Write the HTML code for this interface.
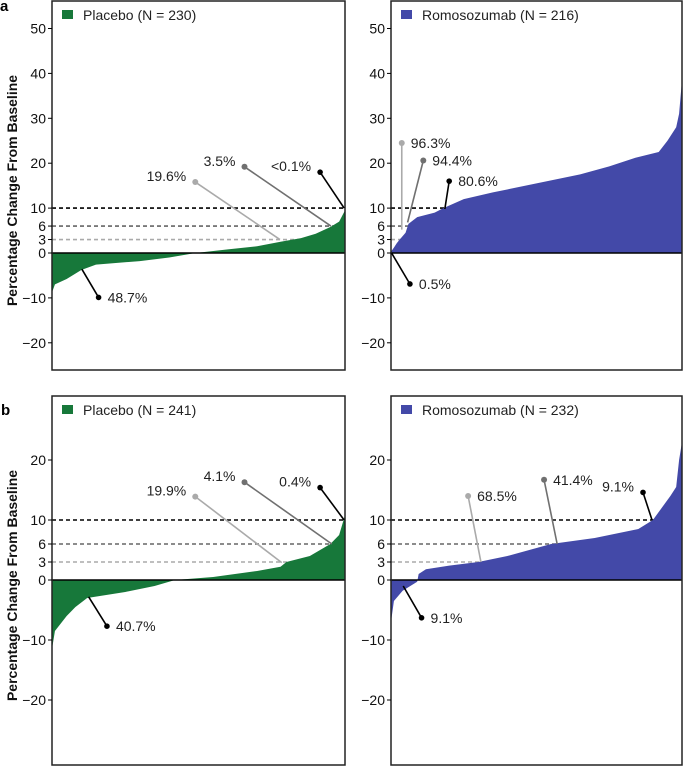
<!DOCTYPE html>
<html><head><meta charset="utf-8"><style>
body{margin:0;background:#fff;}
svg{display:block;font-family:"Liberation Sans",Arial,sans-serif;}
</style></head><body>
<svg id="c" width="684" height="766" xmlns="http://www.w3.org/2000/svg"></svg>
<script>
// Panel a placebo: percentile rank (fraction) and % change
const aPlaFrac=[0,0.01,0.05,0.1,0.15,0.3,0.4,0.49,0.6,0.7,0.78,0.85,0.9,0.95,0.98,1.0];
const aPlaVal=[-8.8,-7,-5.8,-3.8,-2.6,-1.8,-1.0,0,0.8,1.5,2.5,3.3,4.3,5.8,7,9.5];
const aRomFrac=[0,0.01,0.02,0.03,0.05,0.06,0.09,0.15,0.18,0.25,0.35,0.5,0.65,0.75,0.84,0.92,0.95,0.98,0.99,1.0];
const aRomVal=[0.3,1.2,2.2,3,4.5,6.5,8,9,10,12,13.5,15.5,17.5,19.3,21.2,22.5,25,28,31,38.5];
const bPlaFrac=[0,0.01,0.05,0.08,0.12,0.25,0.35,0.42,0.55,0.7,0.78,0.8,0.88,0.95,0.98,1.0];
const bPlaVal=[-11.5,-8.5,-6,-4.5,-3,-2,-1,0,0.5,1.5,2.2,3,4,6,7.5,10.8];
const bRomFrac=[0,0.01,0.04,0.09,0.095,0.12,0.2,0.3,0.4,0.55,0.7,0.85,0.9,0.93,0.96,0.98,0.99,1.0];
const bRomVal=[-7,-3.5,-1.8,-0.3,1,1.8,2.4,3,4,6,7,8.5,10,12,14,15.5,20,23];
const aTicks=[50,40,30,20,10,6,3,0,-10,-20];
const bTicks=[20,10,6,3,0,-10,-20];
const refLines=[10,6,3];
const refColors=['#000','#666','#aaa'];
// annotations: [label, dotFrac, dotVal, endFrac, endVal, colorIdx, side]
const aPlaAnn=[["19.6%",0.489,15.8,0.778,3,2,"L"],["3.5%",0.657,19.2,0.952,6,1,"L"],["<0.1%",0.915,18,0.997,10,0,"L"],["48.7%",0.159,-9.9,0.102,-3.6,0,"R"]];
const aRomAnn=[["96.3%",0.037,24.5,0.037,5.2,2,"R"],["94.4%",0.111,20.6,0.057,6.8,1,"R"],["80.6%",0.2,16,0.185,9.8,0,"R"],["0.5%",0.065,-6.9,0.002,0,0,"R"]];
const bPlaAnn=[["19.9%",0.489,13.9,0.784,2.9,2,"L"],["4.1%",0.657,16.3,0.955,6,1,"L"],["0.4%",0.915,15.4,0.997,10,0,"L"],["40.7%",0.1875,-7.7,0.125,-2.8,0,"R"]];
const bRomAnn=[["68.5%",0.265,14,0.309,3,2,"R"],["41.4%",0.526,16.7,0.571,6,1,"R"],["9.1%",0.866,14.6,0.897,10,0,"L"],["9.1%",0.105,-6.3,0.042,-1,0,"R"]];
const annColors=['#000','#707070','#aaa'];

const svg=document.getElementById('c');
const NS='http://www.w3.org/2000/svg';
function mk(tag,attrs,parent){const e=document.createElementNS(NS,tag);for(const k in attrs)e.setAttribute(k,attrs[k]);(parent||svg).appendChild(e);return e;}

function panel(id,x0,x1,top,bottom,zeroY,pxPer,ticks,frac,vals,color,legend,ann,showTitle){
  const g=mk('g',{});
  
  
  const X=f=>x0+f*(x1-x0);
  const Y=v=>zeroY-v*pxPer;
  refLines.forEach((r,i)=>{
    const l=mk('line',{x1:x0,x2:x1,y1:Y(r),y2:Y(r),stroke:refColors[i],'stroke-width':1.6,'stroke-dasharray':'4,3'},g);
    
    
  });
  let d='M'+X(0)+','+Y(0);
  for(let i=0;i<frac.length;i++){ d+=' L'+X(frac[i])+','+Y(vals[i]); }
  d+=' L'+X(1)+','+Y(0)+' Z';
  const p=mk('path',{d:d,fill:color},g);
  
  
  mk('line',{x1:x0,x2:x1,y1:Y(0),y2:Y(0),stroke:'#000','stroke-width':1.5},g);
  const box=mk('rect',{x:x0,y:top,width:x1-x0,height:bottom-top,fill:'none',stroke:'#222','stroke-width':1.5},g);
  
  
  ticks.forEach(t=>{
    mk('line',{x1:x0-4,x2:x0,y1:Y(t),y2:Y(t),stroke:'#000','stroke-width':1},g);
    const tx=mk('text',{x:x0-6,y:Y(t)+5,'text-anchor':'end','font-size':14,fill:'#111'},g);
    tx.textContent=t<0?'\u2212'+(-t):String(t);
    
    
  });
  ann.forEach(a=>{
    const c=annColors[a[5]];
    mk('line',{x1:X(a[1]),y1:Y(a[2]),x2:X(a[3]),y2:Y(a[4]),stroke:c,'stroke-width':1.6},g);
    mk('circle',{cx:X(a[1]),cy:Y(a[2]),r:a[5]==0?2.8:3,fill:c},g);
    const left=a[6]=='L';
    const t=mk('text',{x:left?X(a[1])-9:X(a[1])+9,y:Y(a[2])+(left?-1:5),'text-anchor':left?'end':'start','font-size':14,fill:'#222'},g);
    t.textContent=a[0];
    
    
  });
  const lg=mk('rect',{x:x0+10,y:top+9,width:11,height:9,fill:color},g);
  
  
  const lt=mk('text',{x:x0+31,y:top+19,'font-size':14,fill:'#222'},g);
  lt.textContent=legend;
  
  
  if(showTitle){
    const cy=(top+bottom)/2+5;
    const tt=mk('text',{x:0,y:0,transform:'translate(17,'+cy+') rotate(-90)','text-anchor':'middle','font-size':14,'font-weight':'bold',fill:'#111'},g);
    tt.textContent='Percentage Change From Baseline';
    
    
  }
}
const green='#17783a', blue='#4349a8';
panel('panel-a-placebo',52,345,1,370,253,4.49,aTicks,aPlaFrac,aPlaVal,green,'Placebo (N = 230)',aPlaAnn,true);
panel('panel-a-romosozumab',391,682,1,370,253,4.49,aTicks,aRomFrac,aRomVal,blue,'Romosozumab (N = 216)',aRomAnn,false);
panel('panel-b-placebo',52,345,396,765,580,6.0,bTicks,bPlaFrac,bPlaVal,green,'Placebo (N = 241)',bPlaAnn,true);
panel('panel-b-romosozumab',391,682,396,765,580,6.0,bTicks,bRomFrac,bRomVal,blue,'Romosozumab (N = 232)',bRomAnn,false);
const la=mk('text',{x:0,y:11,'font-size':15,'font-weight':'bold'});la.textContent='a';


const lb=mk('text',{x:1,y:415,'font-size':15,'font-weight':'bold'});lb.textContent='b';


</script>
</body></html>
